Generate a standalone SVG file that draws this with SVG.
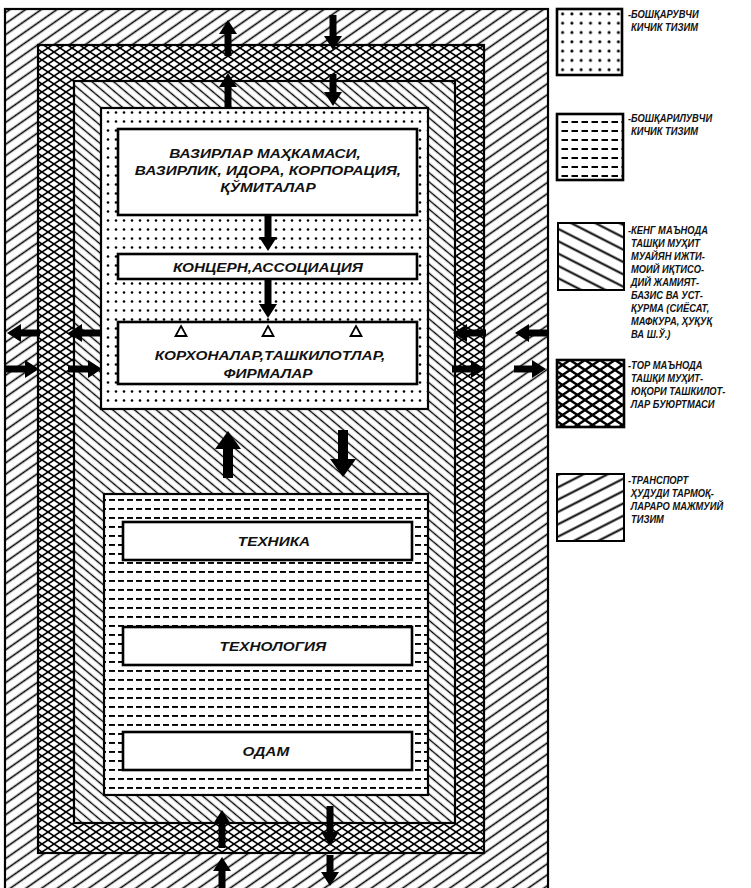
<svg xmlns="http://www.w3.org/2000/svg" width="751" height="888" viewBox="0 0 751 888">
<style>
.frame{stroke:#000;stroke-width:2.2}
.box{fill:#fff;stroke:#000;stroke-width:2.6}
.t{font-family:"Liberation Sans",Arial,sans-serif;font-weight:bold;font-style:italic;font-size:13px;fill:#111;text-anchor:middle;transform-box:fill-box;transform-origin:center;transform:scaleX(1.18)}
.lg{font-family:"Liberation Sans",Arial,sans-serif;font-weight:bold;font-style:italic;font-size:11px;fill:#111;transform-box:fill-box;transform-origin:left center;transform:scaleX(0.85)}
.ar{stroke:#000;stroke-width:7;fill:none}
.arb{stroke:#000;stroke-width:10;fill:none}
</style>
<defs>
<pattern id="slash" width="9" height="9" patternUnits="userSpaceOnUse" patternTransform="rotate(-35)"><rect width="9" height="9" fill="#fff"/><line x1="0" y1="4.5" x2="9" y2="4.5" stroke="#000" stroke-width="1.6"/></pattern>
<pattern id="back" width="7" height="7" patternUnits="userSpaceOnUse" patternTransform="rotate(40)"><rect width="7" height="7" fill="#fff"/><line x1="0" y1="3.5" x2="7" y2="3.5" stroke="#000" stroke-width="1.4"/></pattern>
<pattern id="cross" width="12" height="8" patternUnits="userSpaceOnUse"><rect width="12" height="8" fill="#fff"/><path d="M0,0 L12,8 M0,8 L12,0" stroke="#000" stroke-width="1.6"/></pattern>
<pattern id="dots" width="8" height="9" patternUnits="userSpaceOnUse"><rect width="8" height="9" fill="#fff"/><circle cx="4" cy="4.5" r="1.3" fill="#000"/></pattern>
<pattern id="dash" width="9" height="9" patternUnits="userSpaceOnUse"><rect width="9" height="9" fill="#fff"/><rect x="1" y="4" width="6" height="1.9" fill="#000"/></pattern>
<pattern id="ldots" width="9.3" height="9.3" patternUnits="userSpaceOnUse"><rect width="9.3" height="9.3" fill="#fff"/><circle cx="4.6" cy="4.6" r="1.5" fill="#000"/></pattern>
<pattern id="ldash" width="10" height="9" patternUnits="userSpaceOnUse"><rect width="10" height="9" fill="#fff"/><rect x="1.5" y="4" width="6.5" height="2" fill="#000"/></pattern>
<pattern id="lback" width="11" height="11" patternUnits="userSpaceOnUse" patternTransform="rotate(27)"><rect width="11" height="11" fill="#fff"/><line x1="0" y1="5.5" x2="11" y2="5.5" stroke="#000" stroke-width="2"/></pattern>
<pattern id="lslash" width="11" height="11" patternUnits="userSpaceOnUse" patternTransform="rotate(-27)"><rect width="11" height="11" fill="#fff"/><line x1="0" y1="5.5" x2="11" y2="5.5" stroke="#000" stroke-width="2"/></pattern>
<pattern id="lcross" width="15" height="10" patternUnits="userSpaceOnUse"><rect width="15" height="10" fill="#fff"/><path d="M0,0 L15,10 M0,10 L15,0" stroke="#000" stroke-width="2.4"/></pattern>
<marker id="hd" markerUnits="userSpaceOnUse" markerWidth="14" markerHeight="18" refX="2" refY="9" orient="auto"><path d="M0,0 L14,9 L0,18 z" fill="#000"/></marker>
<marker id="hdb" markerUnits="userSpaceOnUse" markerWidth="18" markerHeight="26" refX="3" refY="13" orient="auto"><path d="M0,0 L18,13 L0,26 z" fill="#000"/></marker>
</defs>
<rect width="751" height="888" fill="#fff"/>

<g id="transport-band"><rect class="frame" x="5" y="9" width="543" height="885" fill="url(#slash)"/></g>
<g id="outer-env-band"><rect class="frame" x="38" y="45" width="446" height="808" fill="url(#cross)"/></g>
<g id="wide-env-band"><rect class="frame" x="74" y="81" width="381" height="742" fill="url(#back)"/></g>
<g id="managing-subsystem"><rect class="frame" x="101" y="108" width="327" height="301" fill="url(#dots)"/></g>
<g id="managed-subsystem"><rect class="frame" x="104" y="494" width="324" height="301" fill="url(#dash)" stroke-width="2.6"/></g>

<g id="box-ministries"><rect class="box" x="118" y="129" width="299" height="86"/>
<text class="t" x="265" y="158">ВАЗИРЛАР  МАҲКАМАСИ,</text>
<text class="t" x="268" y="175">ВАЗИРЛИК, ИДОРА, КОРПОРАЦИЯ,</text>
<text class="t" x="268" y="192">ҚЎМИТАЛАР</text></g>
<g id="box-concern"><rect class="box" x="118" y="254" width="299" height="25"/>
<text class="t" x="268" y="272">КОНЦЕРН,АССОЦИАЦИЯ</text></g>
<g id="box-enterprises"><rect class="box" x="118" y="322" width="299" height="62"/>
<path d="M181,326 L186.5,336 L175.5,336 z M268,326 L273.5,336 L262.5,336 z M356,326 L361.5,336 L350.5,336 z" fill="none" stroke="#000" stroke-width="1.8"/>
<text class="t" x="270" y="360">КОРХОНАЛАР,ТАШКИЛОТЛАР,</text>
<text class="t" x="268" y="378">ФИРМАЛАР</text></g>
<g id="box-technics"><rect class="box" x="123" y="522" width="289" height="38"/><text class="t" x="274" y="546">ТЕХНИКА</text></g>
<g id="box-technology"><rect class="box" x="123" y="627" width="289" height="38"/><text class="t" x="273" y="651">ТЕХНОЛОГИЯ</text></g>
<g id="box-human"><rect class="box" x="123" y="732" width="289" height="38"/><text class="t" x="266" y="756">ОДАМ</text></g>

<g id="connectors">
<line class="ar" x1="228" y1="56" x2="228" y2="32" marker-end="url(#hd)"/>
<line class="ar" x1="333" y1="15" x2="333" y2="38" marker-end="url(#hd)"/>
<line class="ar" x1="228" y1="108" x2="228" y2="85" marker-end="url(#hd)"/>
<line class="ar" x1="333" y1="74" x2="333" y2="94" marker-end="url(#hd)"/>
<line class="ar" x1="268" y1="216" x2="268" y2="239" marker-end="url(#hd)"/>
<line class="ar" x1="268" y1="280" x2="268" y2="306" marker-end="url(#hd)"/>
<line class="arb" x1="228" y1="478" x2="228" y2="446" marker-end="url(#hdb)"/>
<line class="arb" x1="343" y1="430" x2="343" y2="462" marker-end="url(#hdb)"/>
<line class="ar" x1="222" y1="848" x2="222" y2="822" marker-end="url(#hd)"/>
<line class="ar" x1="330" y1="806" x2="330" y2="834" marker-end="url(#hd)"/>
<line class="ar" x1="222" y1="890" x2="222" y2="869" marker-end="url(#hd)"/>
<line class="ar" x1="330" y1="855" x2="330" y2="874" marker-end="url(#hd)"/>
<line class="ar" x1="40" y1="333" x2="19" y2="333" marker-end="url(#hd)"/>
<line class="ar" x1="6" y1="369" x2="27" y2="369" marker-end="url(#hd)"/>
<line class="ar" x1="102" y1="333" x2="80" y2="333" marker-end="url(#hd)"/>
<line class="ar" x1="68" y1="369" x2="90" y2="369" marker-end="url(#hd)"/>
<line class="ar" x1="486" y1="333" x2="465" y2="333" marker-end="url(#hd)"/>
<line class="ar" x1="452" y1="369" x2="473" y2="369" marker-end="url(#hd)"/>
<line class="ar" x1="547" y1="333" x2="527" y2="333" marker-end="url(#hd)"/>
<line class="ar" x1="514" y1="369" x2="534" y2="369" marker-end="url(#hd)"/>
</g>

<g id="legend-managing"><rect x="557" y="9" width="65" height="66" fill="url(#ldots)" stroke="#000" stroke-width="2.6"/>
<text class="lg" x="628" y="18">-БОШҚАРУВЧИ</text><text class="lg" x="631" y="31">КИЧИК  ТИЗИМ</text></g>
<g id="legend-managed"><rect x="557" y="114" width="66" height="66" fill="url(#ldash)" stroke="#000" stroke-width="2.6"/>
<text class="lg" x="628" y="122">-БОШҚАРИЛУВЧИ</text><text class="lg" x="631" y="135">КИЧИК  ТИЗИМ</text></g>
<g id="legend-wide"><rect x="558" y="223" width="66" height="67" fill="url(#lback)" stroke="#000" stroke-width="2"/>
<text class="lg" x="628" y="234">-КЕНГ МАЪНОДА</text>
<text class="lg" x="631" y="247">ТАШҚИ МУҲИТ</text>
<text class="lg" x="631" y="260">МУАЙЯН ИЖТИ-</text>
<text class="lg" x="631" y="273">МОИЙ ИҚТИСО-</text>
<text class="lg" x="631" y="286">ДИЙ ЖАМИЯТ-</text>
<text class="lg" x="631" y="299">БАЗИС ВА УСТ-</text>
<text class="lg" x="631" y="312">ҚУРМА (СИЁСАТ,</text>
<text class="lg" x="631" y="325">МАФКУРА, ҲУҚУҚ</text>
<text class="lg" x="631" y="338">ВА Ш.Ў.)</text></g>
<g id="legend-narrow"><rect x="557" y="360" width="67" height="67" fill="url(#lcross)" stroke="#000" stroke-width="2.6"/>
<text class="lg" x="628" y="369">-ТОР МАЪНОДА</text>
<text class="lg" x="631" y="382">ТАШҚИ МУҲИТ-</text>
<text class="lg" x="631" y="395">ЮҚОРИ ТАШКИЛОТ-</text>
<text class="lg" x="631" y="408">ЛАР БУЮРТМАСИ</text></g>
<g id="legend-transport"><rect x="557" y="474" width="67" height="67" fill="url(#lslash)" stroke="#000" stroke-width="2"/>
<text class="lg" x="628" y="484">-ТРАНСПОРТ</text>
<text class="lg" x="631" y="497">ҲУДУДИ ТАРМОҚ-</text>
<text class="lg" x="631" y="510">ЛАРАРО МАЖМУИЙ</text>
<text class="lg" x="631" y="523">ТИЗИМ</text></g>
</svg>
